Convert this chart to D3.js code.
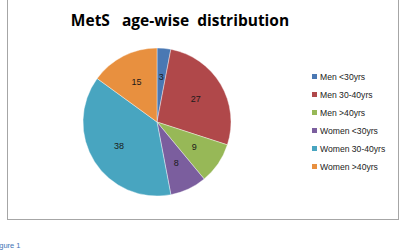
<!DOCTYPE html>
<html>
<head>
<meta charset="utf-8">
<script src="https://cdn.jsdelivr.net/npm/d3@7"></script>
<style>
body { margin: 0; background: #fff; }
svg { display: block; }
</style>
</head>
<body>
<svg width="403" height="251"></svg>
<script>
const categories = ["Men <30yrs", "Men 30-40yrs", "Men >40yrs", "Women <30yrs", "Women 30-40yrs", "Women >40yrs"]
const values = [3, 27, 9, 8, 38, 15]
const colors = ["#4a78b3", "#b0484a", "#97b857", "#7b5e9e", "#48a5c0", "#e8903f"]

const width = 403
const height = 251
const cx = 157, cy = 122, radius = 74
const font = "Liberation Sans, Arial, sans-serif"

const svg = d3.select("svg")

// chart frame
svg.append("rect")
.attr("x", 7.5).attr("y", -2)
.attr("width", 391).attr("height", 221.5)
.attr("fill", "#fff")
.attr("stroke", "#a6a6a6")
.attr("stroke-width", 1)

svg.append("text")
.attr("x", 180).attr("y", 26)
.attr("text-anchor", "middle")
.attr("font-family", "Open Sans, sans-serif")
.attr("font-weight", "bold")
.attr("font-size", 15.5)
.attr("fill", "#000")
.attr("xml:space", "preserve")
.text("MetS   age-wise  distribution")

const pie = d3.pie().sort(null).value(function(d){ return d })
const arcs = pie(values)
const arc = d3.arc().innerRadius(0).outerRadius(radius)
const labelArc = d3.arc().innerRadius(45).outerRadius(45)

const g = svg.append("g").attr("transform", "translate(" + cx + "," + cy + ")")

g.selectAll("path")
.data(arcs)
.enter()
.append("path")
.attr("d", arc)
.attr("fill", function(d, i){ return colors[i] })
.attr("stroke", "#fff")
.attr("stroke-width", 0.4)

g.selectAll("text")
.data(arcs)
.enter()
.append("text")
.attr("transform", function(d){ return "translate(" + labelArc.centroid(d) + ")" })
.attr("text-anchor", "middle")
.attr("dy", "0.35em")
.attr("font-family", font)
.attr("font-size", 9)
.attr("fill", "#1a1a1a")
.text(function(d){ return d.data })

// legend
const legend = svg.append("g").attr("class", "legend")
const row = d3.scaleBand().domain(categories).range([68, 176])

const items = legend.selectAll("g")
.data(categories)
.enter()
.append("g")
.attr("transform", function(d){ return "translate(312," + (row(d) + row.bandwidth() / 2) + ")" })

items.append("rect")
.attr("x", 0).attr("y", -3)
.attr("width", 5).attr("height", 5)
.attr("fill", function(d, i){ return colors[i] })

items.append("text")
.attr("x", 8).attr("y", 0)
.attr("dy", "0.35em")
.attr("font-family", font)
.attr("font-size", 8.6)
.attr("fill", "#222")
.text(function(d){ return d })

svg.append("text")
.attr("x", -7).attr("y", 248)
.attr("font-family", font)
.attr("font-size", 7.5)
.attr("fill", "#3d73b5")
.text("Figure 1")
</script>
</body>
</html>
